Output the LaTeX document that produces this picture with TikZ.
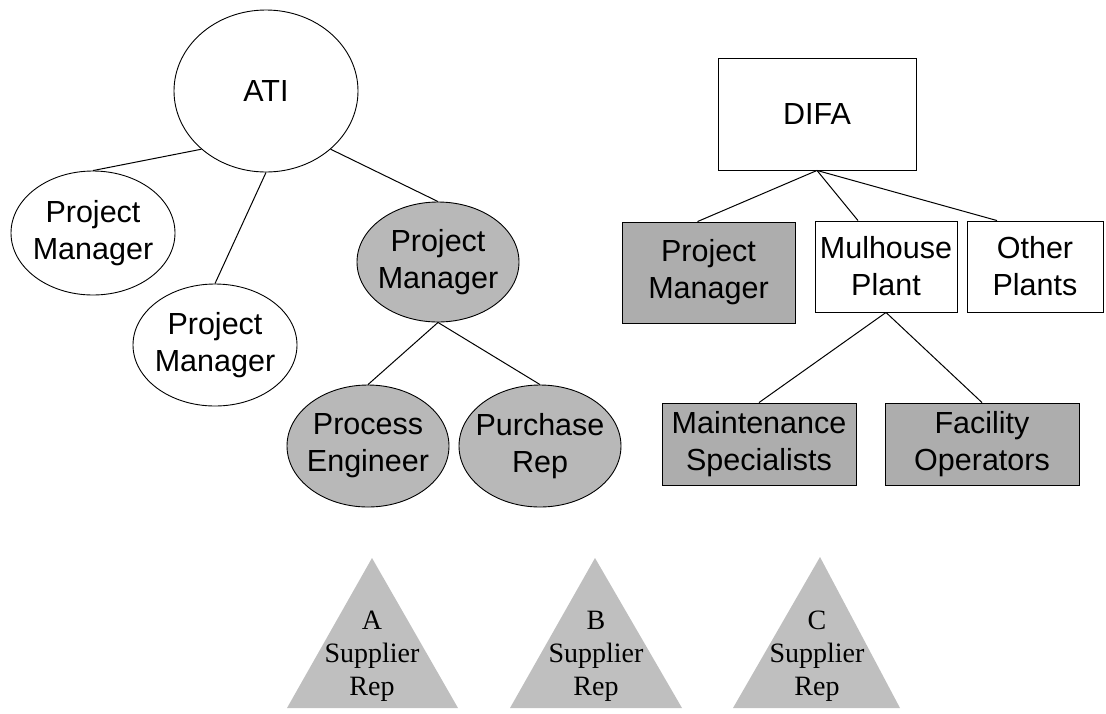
\documentclass[tikz,border=0pt]{standalone}
\usepackage{fontspec}
\setmainfont{Liberation Sans}
\newfontfamily\timesfont{Liberation Serif}
\usetikzlibrary{shapes}
\definecolor{ellgray}{gray}{0.72}
\definecolor{boxgray}{gray}{0.68}
\definecolor{trigray}{gray}{0.75}

\begin{document}
\begin{tikzpicture}[x=1pt,y=-1pt,
  every node/.style={font=\fontsize{30.5}{37}\selectfont,align=center},
  oval/.style={draw,ellipse,inner sep=-10pt,line width=0.9pt},
  unit/.style={draw,rectangle,inner sep=0pt,line width=0.9pt},
  link/.style={line width=1pt},
  tritext/.style={font=\timesfont\fontsize{28}{33}\selectfont}]
\useasboundingbox (0,0) rectangle (1106,713);

\node[oval,minimum width=184pt,minimum height=162pt] (ati) at (266,91) {ATI};
\node[oval,minimum width=164pt,minimum height=124pt] (pma) at (93,233) {Project\\Manager};
\node[oval,minimum width=164pt,minimum height=122pt] (pmb) at (215,345) {Project\\Manager};
\node[oval,fill=ellgray,minimum width=162pt,minimum height=120pt] (pmc) at (438,262) {Project\\Manager};
\node[oval,fill=ellgray,minimum width=162pt,minimum height=122pt] (proc) at (368,446) {Process\\Engineer};
\node[oval,fill=ellgray,minimum width=162pt,minimum height=122pt] (purch) at (540,446) {Purchase\\Rep};

\node[unit,minimum width=198pt,minimum height=112pt] (difa) at (817,114) {DIFA};
\node[unit,fill=boxgray,minimum width=173pt,minimum height=101pt] (pmd) at (708.5,272.5) {Project\\Manager};
\node[unit,minimum width=142pt,minimum height=91pt] (mul) at (886,266.5) {Mulhouse\\Plant};
\node[unit,minimum width=136pt,minimum height=91pt] (oth) at (1035,266.5) {Other\\Plants};
\node[unit,fill=boxgray,minimum width=194pt,minimum height=82pt] (maint) at (759,444) {Maintenance\\Specialists};
\node[unit,fill=boxgray,minimum width=194pt,minimum height=82pt] (fac) at (982,444) {Facility\\Operators};

\draw[link] (ati.222) -- (pma.north);
\draw[link] (ati.south) -- (pmb.north);
\draw[link] (ati.-42) -- (pmc.north);
\draw[link] (pmc.south) -- (proc.north);
\draw[link] (pmc.south) -- (purch.north);
\draw[link] (difa.south) -- ([xshift=-11pt]pmd.north);
\draw[link] (difa.south) -- ([xshift=-28pt]mul.north);
\draw[link] (difa.south) -- ([xshift=-38pt]oth.north);
\draw[link] (mul.south) -- (maint.north);
\draw[link] (mul.south) -- (fac.north);

\fill[trigray] (287,708) -- (372,558) -- (458,708) -- cycle;
\fill[trigray] (510,708) -- (595,558) -- (682,708) -- cycle;
\fill[trigray] (733,708) -- (820,557) -- (900,708) -- cycle;
\node[tritext] (supa) at (372,656) {A\\Supplier\\Rep};
\node[tritext] (supb) at (596,656) {B\\Supplier\\Rep};
\node[tritext] (supc) at (817,656) {C\\Supplier\\Rep};

\end{tikzpicture}
\end{document}
